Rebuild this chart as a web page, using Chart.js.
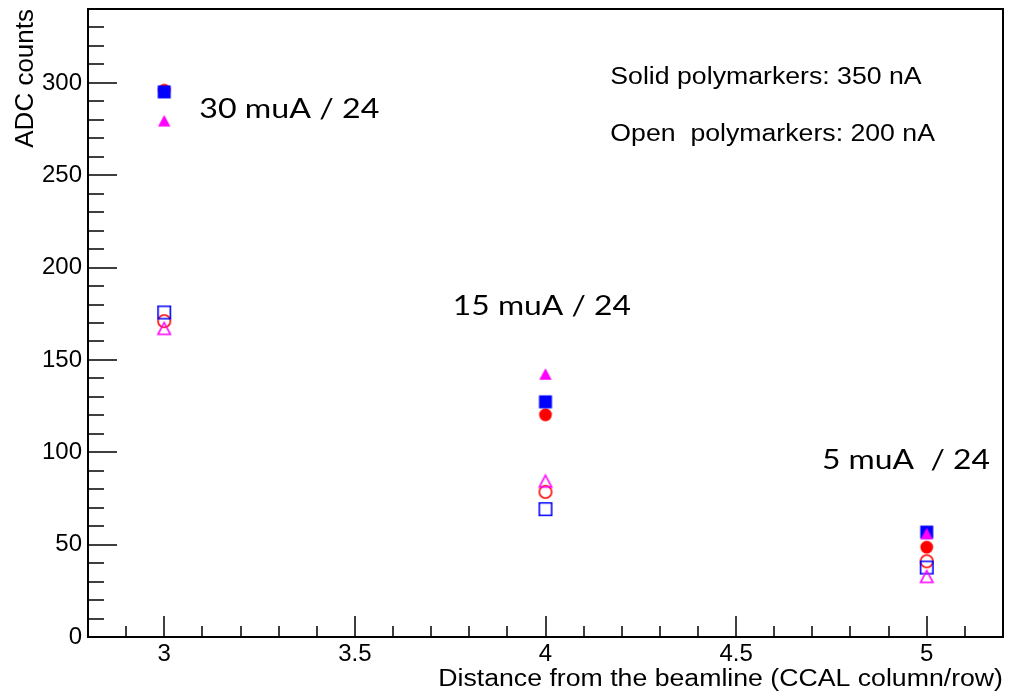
<!DOCTYPE html>
<html>
<head>
<meta charset="utf-8">
<title>ADC counts vs distance from the beamline</title>
<script src="https://cdn.jsdelivr.net/npm/chart.js@4.4.1/dist/chart.umd.min.js"></script>
<style>
  html, body { margin: 0; padding: 0; background: #ffffff; }
  #wrap { width: 1012px; height: 695px; }
  canvas { display: block; }
</style>
</head>
<body>
<div id="wrap"><canvas id="chart" width="1012" height="695"></canvas></div>
<script>
// Distance from the beamline (CCAL column/row)
const distances = [3, 4, 5];

// Solid markers: 350 nA beam current
const solidRed     = [296, 120.3, 48.6];
const solidBlue    = [295.1, 127.3, 56.8];
const solidMagenta = [279.5, 142.4, 56];

// Open markers: 200 nA beam current
const openRed      = [171, 78.6, 41];
const openBlue     = [175.7, 69.2, 37.6];
const openMagenta  = [167, 84.3, 32.7];

// Axis tick labels
const xTickValues = [3, 3.5, 4, 4.5, 5];
const yTickValues = [0, 50, 100, 150, 200, 250, 300];

// Text drawn on the plot
const groupLabels  = ['30 muA / 24', '15 muA / 24', '5 muA  / 24'];
const legendLines  = ['Solid polymarkers: 350 nA', 'Open  polymarkers: 200 nA'];
const xTitle = 'Distance from the beamline (CCAL column/row)';
const yTitle = 'ADC counts';

const BLUE = '#0000ff', RED = '#ff0000', MAGENTA = '#ff00ff';

// Small ROOT-like polymarkers rendered once into offscreen canvases
function makeMarker(shape, color, filled) {
  const c = document.createElement('canvas');
  c.width = 16; c.height = 16;
  const g = c.getContext('2d');
  g.fillStyle = color; g.strokeStyle = color; g.lineWidth = 1.6;
  g.beginPath();
  if (shape === 'square') {
    if (filled) g.rect(1.5, 1.5, 13, 13); else g.rect(1.8, 1.8, 12.4, 12.4);
  } else if (shape === 'circle') {
    g.arc(8, 8, filled ? 6.4 : 6.2, 0, Math.PI * 2);
  } else {
    if (filled) { g.moveTo(8, 2.2); g.lineTo(14.2, 13.8); g.lineTo(1.8, 13.8); }
    else { g.moveTo(8, 2.0); g.lineTo(14.2, 13.8); g.lineTo(1.8, 13.8); }
    g.closePath();
  }
  if (filled) g.fill(); else g.stroke();
  return c;
}

function series(label, values, style) {
  return {
    label,
    data: distances.map((d, i) => ({ x: d, y: values[i] })),
    pointStyle: style,
    pointRadius: 8,
    pointHoverRadius: 8,
    showLine: false
  };
}

// The first dataset is painted last, so magenta sits over blue, blue over red.
const datasets = [
  series('Open magenta', openMagenta, makeMarker('triangle', MAGENTA, false)),
  series('Open blue', openBlue, makeMarker('square', BLUE, false)),
  series('Open red', openRed, makeMarker('circle', RED, false)),
  series('Solid magenta', solidMagenta, makeMarker('triangle', MAGENTA, true)),
  series('Solid blue', solidBlue, makeMarker('square', BLUE, true)),
  series('Solid red', solidRed, makeMarker('circle', RED, true))
];

const HELV = '"Liberation Sans", Arial, Helvetica, sans-serif';

// Draws text with a horizontal stretch factor
function stretchedText(ctx, text, x, y, sx, align) {
  ctx.save();
  ctx.translate(x, y);
  ctx.scale(sx, 1);
  ctx.textAlign = align || 'left';
  ctx.fillText(text, 0, 0);
  ctx.restore();
}

function noScalePadding(s) {
  s.paddingTop = 0; s.paddingBottom = 0; s.paddingLeft = 0; s.paddingRight = 0;
}

const framePlugin = {
  id: 'rootFrame',
  beforeDatasetsDraw(chart) {
    const { ctx, chartArea: a, scales: { x, y } } = chart;
    ctx.save();
    ctx.strokeStyle = '#000';
    ctx.lineWidth = 1.5;
    ctx.beginPath();
    // x ticks every 0.1, long ones every 0.5
    for (let i = Math.ceil(x.min * 10 + 1e-6); i <= Math.floor(x.max * 10 - 1e-6); i++) {
      const px = Math.round(x.getPixelForValue(i / 10));
      const len = (i % 5 === 0) ? 21 : 11;
      ctx.moveTo(px, a.bottom);
      ctx.lineTo(px, a.bottom - len);
    }
    // y ticks every 10, long ones every 50
    for (let j = 10; j < y.max; j += 10) {
      const py = Math.round(y.getPixelForValue(j));
      const len = (j % 50 === 0) ? 29 : 16;
      ctx.moveTo(a.left, py);
      ctx.lineTo(a.left + len, py);
    }
    ctx.stroke();
    ctx.lineWidth = 2;
    ctx.strokeRect(a.left, a.top, a.right - a.left, a.bottom - a.top);
    ctx.restore();
  },
  afterDraw(chart) {
    const { ctx, chartArea: a, scales: { x, y } } = chart;
    ctx.save();
    ctx.fillStyle = '#000';
    ctx.textBaseline = 'alphabetic';

    // axis titles
    ctx.font = '23.5px ' + HELV;
    stretchedText(ctx, xTitle, a.right, 686, 1.135, 'right');
    ctx.save();
    ctx.font = '26px ' + HELV;
    ctx.translate(33, a.top);
    ctx.rotate(-Math.PI / 2);
    ctx.textAlign = 'right';
    ctx.fillText(yTitle, 0, 0);
    ctx.restore();

    // beam current note
    ctx.font = '23.5px ' + HELV;
    const lx = x.getPixelForValue(4.17);
    stretchedText(ctx, legendLines[0], lx, y.getPixelForValue(299.6), 1.135);
    stretchedText(ctx, legendLines[1], lx, y.getPixelForValue(268.6), 1.135);

    // per-group current labels
    ctx.font = '27px Lato, "Open Sans", sans-serif';
    const anchors = [[3.092, 281.2, 180], [3.757, 174.6, 178], [4.725, 90.8, 168]];
    groupLabels.forEach((t, i) => {
      const [vx, vy, w] = anchors[i];
      const sx = w / ctx.measureText(t).width;
      stretchedText(ctx, t, x.getPixelForValue(vx), y.getPixelForValue(vy), sx);
    });
    ctx.restore();
  }
};

new Chart(document.getElementById('chart'), {
  type: 'scatter',
  data: { datasets },
  options: {
    responsive: false,
    animation: false,
    devicePixelRatio: 1,
    layout: { padding: { top: 8, right: 4, left: 0, bottom: 0 } },
    plugins: { legend: { display: false }, tooltip: { enabled: false } },
    events: [],
    scales: {
      x: {
        type: 'linear',
        min: 2.8,
        max: 5.2,
        grid: { display: false, drawTicks: false },
        border: { display: false },
        afterBuildTicks: (s) => { s.ticks = xTickValues.map(v => ({ value: v })); },
        afterFit: (s) => { s.height = 58; noScalePadding(s); },
        ticks: {
          color: '#000',
          padding: 3,
          maxRotation: 0,
          font: { family: HELV, size: 24 },
          callback: (v) => String(v)
        }
      },
      y: {
        type: 'linear',
        min: 0,
        max: 340,
        grid: { display: false, drawTicks: false },
        border: { display: false },
        afterBuildTicks: (s) => { s.ticks = yTickValues.map(v => ({ value: v })); },
        afterFit: (s) => { s.width = 88; noScalePadding(s); },
        ticks: {
          color: '#000',
          padding: 6,
          font: { family: HELV, size: 24 },
          callback: (v) => String(v)
        }
      }
    }
  },
  plugins: [framePlugin]
});
</script>
</body>
</html>
